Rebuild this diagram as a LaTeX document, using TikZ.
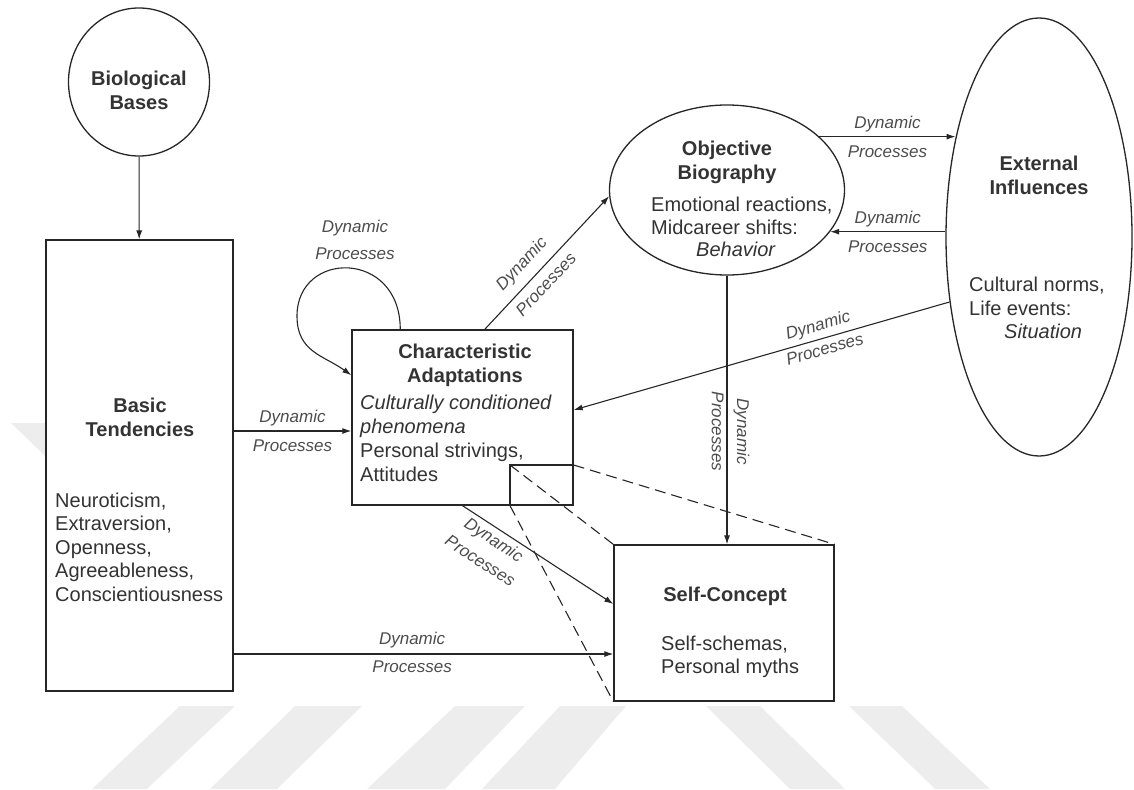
\documentclass[tikz,border=0pt]{standalone}
\usepackage{fontspec}
\setmainfont{Liberation Sans}
\usepackage{tikz}
\usetikzlibrary{arrows.meta,calc,positioning,shapes.geometric}

\tikzset{
  box/.style={draw=black!85, line width=1.3pt, fill=white, inner sep=0pt},
  bubble/.style={box, ellipse},
  head/.style={font=\fontsize{20}{24}\selectfont\bfseries, align=center, text=black!80},
  body/.style={font=\fontsize{20}{24}\selectfont, align=left, anchor=west, inner sep=0pt, text=black!80},
  proc/.style={font=\fontsize{17}{22}\selectfont\itshape, text=black!70},
  flow/.style={draw=black!85, -{Latex[length=9pt,width=6pt]}, line width=1.1pt},
  zoomline/.style={draw=black!85, dash pattern=on 11pt off 6pt, line width=1.1pt},
  wm/.style={fill=black!7}
}

\begin{document}
\begin{tikzpicture}[x=1pt,y=-1pt]
\useasboundingbox (0,0) rectangle (1134,789);

% watermark
\fill[wm] (180,706) -- (235,706) -- (147,789) -- (92,789) -- cycle;
\fill[wm] (295,706) -- (362,706) -- (277,789) -- (210,789) -- cycle;
\fill[wm] (455,706) -- (525,706) -- (445,789) -- (367,789) -- cycle;
\fill[wm] (560,706) -- (626,706) -- (555,789) -- (482,789) -- cycle;
\fill[wm] (706,706) -- (760,706) -- (845,789) -- (790,789) -- cycle;
\fill[wm] (849,706) -- (902,706) -- (990,789) -- (935,789) -- cycle;
\fill[wm] (11,423) -- (46,423) -- (46,457) -- cycle;

% shapes
\node[bubble, minimum width=141pt, minimum height=148pt] (bio) at (139,82) {};
\node[box, minimum width=187pt, minimum height=451pt] (basic) at (139.5,465.5) {};
\node[box, minimum width=221pt, minimum height=175pt] (ca) at (462.5,417.5) {};
\node[bubble, minimum width=235pt, minimum height=170pt] (ob) at (727,190) {};
\node[bubble, minimum width=186pt, minimum height=438pt] (ei) at (1039,237) {};
\node[box, minimum width=220pt, minimum height=156pt] (sc) at (724,623) {};

% texts
\node[head] (biot) at (139,90) {Biological\\Bases};
\node[head] (basict) at (140,417) {Basic\\Tendencies};
\node[body, font=\fontsize{20}{23.5}\selectfont] (basicl) at (55,547)
  {Neuroticism,\\Extraversion,\\Openness,\\Agreeableness,\\Conscientiousness};
\node[head] (cat) at (465,365) {Characteristic\\Adaptations};
\node[body] (cal) at (360,438)
  {\textit{Culturally conditioned}\\\textit{phenomena}\\Personal strivings,\\Attitudes};
\node[head] (obt) at (727,162) {Objective\\Biography};
\node[body, font=\fontsize{20}{22.5}\selectfont] (obl) at (651,227)
  {Emotional reactions,\\Midcareer shifts:\\\hspace*{45pt}\textit{Behavior}};
\node[head] (eit) at (1039,175) {External\\Influences};
\node[body, font=\fontsize{20}{23.5}\selectfont] (eil) at (969,308)
  {Cultural norms,\\Life events:\\\hspace*{35pt}\textit{Situation}};
\node[head] (sct) at (725,596) {Self-Concept};
\node[body, font=\fontsize{20}{23}\selectfont] (scl) at (661,656.5) {Self-schemas,\\Personal myths};

% zoom of the adaptations box onto the self-concept
\coordinate (zTL) at (510,465);
\draw[draw=black!85, line width=1.1pt] (zTL) rectangle (ca.south east);
\draw[zoomline] (zTL) -- (sc.north west);
\draw[zoomline] (zTL -| ca.east) -- (sc.north east);
\draw[zoomline] (zTL |- ca.south) -- (sc.south west);

% dynamic processes
\coordinate (b2c) at (0,431);
\coordinate (b2s) at (0,654);
\draw[flow] (bio) -- (basic);
\draw[flow] (basic.east |- b2c) -- (ca.west |- b2c)
  node[proc, midway, above=1pt] {Dynamic} node[proc, midway, below=5pt] {Processes};
\draw[flow] (basic.east |- b2s) -- (sc.west |- b2s)
  node[proc, pos=0.47, above=2pt] {Dynamic} node[proc, pos=0.47, below=3pt] {Processes};
\draw[flow] (ca.south) -- ([yshift=19pt]sc.west)
  node[proc, sloped, pos=0.25, below=1pt, align=center, font=\fontsize{17}{25}\selectfont\itshape] {Dynamic\\Processes};
\draw[flow] ($(ca.north west)!0.6!(ca.north east)$) -- (ob.183)
  node[proc, sloped, pos=0.4, above=5pt] {Dynamic} node[proc, sloped, pos=0.41, below=4pt] {Processes};
\draw[flow] (ob.30) -- (ob.30 -| ei.130)
  node[proc, midway, above=1pt] {Dynamic} node[proc, midway, below=5pt] {Processes};
\draw[flow] (ei.west |- ob.-22) -- (ob.-22)
  node[proc, midway, above=1pt] {Dynamic} node[proc, midway, below=5pt] {Processes};
\draw[flow] (ei.216) -- ([yshift=7.5pt]ca.east)
  node[proc, sloped, pos=0.34, above=1pt] {Dynamic} node[proc, sloped, pos=0.34, below=1pt] {Processes};
\draw[flow] (ob.south) -- (ob.south |- sc.north)
  node[proc, pos=0.58, rotate=-90, anchor=south, inner sep=6pt] {Dynamic}
  node[proc, pos=0.58, rotate=-90, anchor=north, inner sep=3pt] {Processes};

% loop on the adaptations
\coordinate (loopS) at ($(ca.north west)!0.22!(ca.north east)$);
\coordinate (loopE) at ($(ca.north west)!0.26!(ca.south west)$);
\coordinate (loopL) at (297,316);
\draw[flow] (loopS) .. controls +(0,-80) and +(0,-66) .. (loopL)
  .. controls +(0,36) and +(-28,-20) .. (loopE);
\node[proc, align=center, font=\fontsize{17}{27}\selectfont\itshape] (looplbl) at (355,240) {Dynamic\\Processes};
\end{tikzpicture}
\end{document}
